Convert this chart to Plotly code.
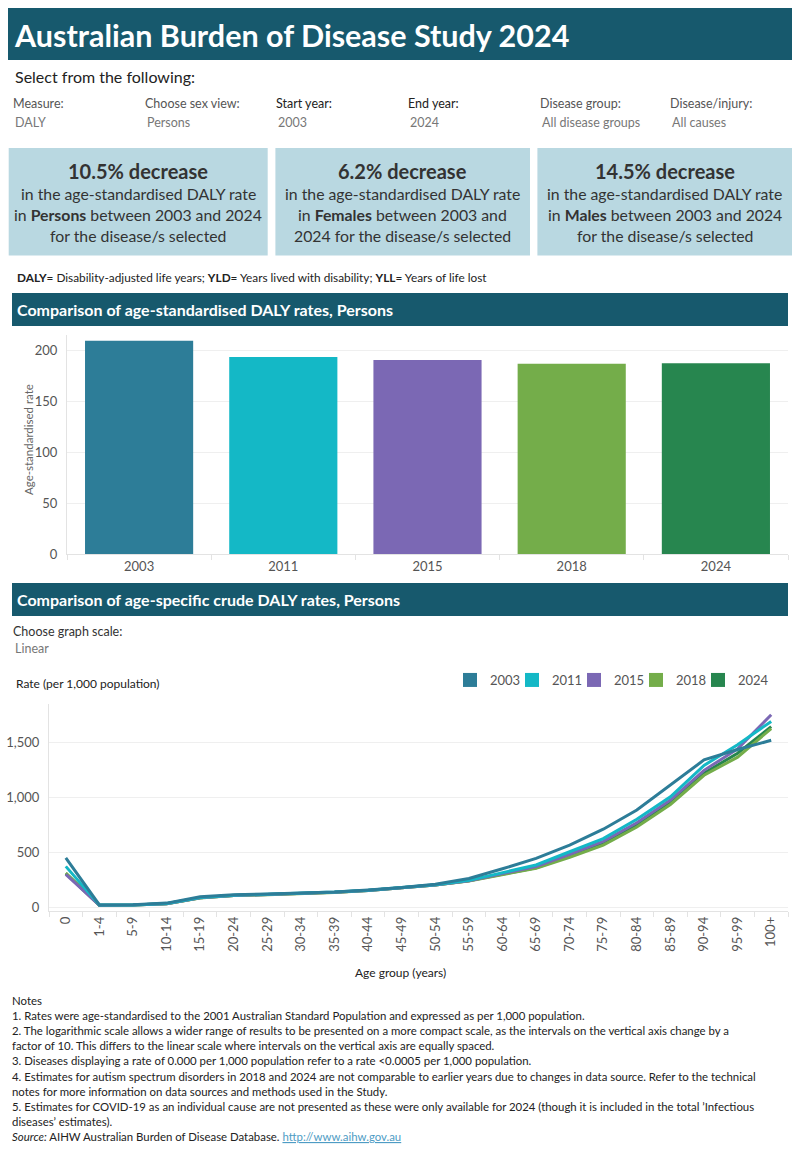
import plotly.graph_objects as go

W, H = 800, 1150
FONT = "Lato"

# ---------------- data ----------------
years = ["2003", "2011", "2015", "2018", "2024"]
asr_rates = [209.0, 193.2, 190.3, 186.4, 187.1]
year_colors = ["#2D7D98", "#14B8C6", "#7B68B4", "#74AD4A", "#27864F"]

age_groups = ["0", "1-4", "5-9", "10-14", "15-19", "20-24", "25-29", "30-34", "35-39",
              "40-44", "45-49", "50-54", "55-59", "60-64", "65-69", "70-74", "75-79",
              "80-84", "85-89", "90-94", "95-99", "100+"]
rate_2003 = [450, 22, 24, 38, 95, 115, 121, 128, 140, 158, 180, 210, 262, 350, 445, 565, 710, 885, 1110, 1340, 1435, 1518]
rate_2011 = [372, 20, 21, 34, 88, 110, 118, 125, 138, 155, 178, 205, 245, 312, 385, 505, 625, 800, 1005, 1290, 1478, 1690]
rate_2015 = [300, 19, 20, 33, 86, 108, 116, 124, 136, 153, 176, 203, 242, 305, 370, 482, 600, 768, 975, 1245, 1440, 1750]
rate_2018 = [312, 19, 20, 33, 85, 107, 115, 123, 135, 152, 175, 202, 240, 300, 355, 455, 565, 730, 935, 1200, 1365, 1625]
rate_2024 = [308, 19, 20, 33, 86, 108, 116, 124, 136, 153, 176, 203, 242, 302, 360, 465, 580, 748, 955, 1220, 1400, 1642]
rates_by_year = [rate_2003, rate_2011, rate_2015, rate_2018, rate_2024]

kpi_titles = ["10.5% decrease", "6.2% decrease", "14.5% decrease"]
kpi_lines = [
    ["in the age-standardised DALY rate", "in <b>Persons</b> between 2003 and 2024", "for the disease/s selected"],
    ["in the age-standardised DALY rate", "in <b>Females</b> between 2003 and", "2024 for the disease/s selected"],
    ["in the age-standardised DALY rate", "in <b>Males</b> between 2003 and 2024", "for the disease/s selected"],
]
control_labels = ["Measure:", "Choose sex view:", "Start year:", "End year:", "Disease group:", "Disease/injury:"]
control_values = ["DALY", "Persons", "2003", "2024", "All disease groups", "All causes"]
notes_lines = [
    "Notes",
    "1. Rates were age-standardised to the 2001 Australian Standard Population and expressed as per 1,000 population.",
    "2. The logarithmic scale allows a wider range of results to be presented on a more compact scale, as the intervals on the vertical axis change by a",
    "factor of 10. This differs to the linear scale where intervals on the vertical axis are equally spaced.",
    "3. Diseases displaying a rate of 0.000 per 1,000 population refer to a rate &lt;0.0005 per 1,000 population.",
    "4. Estimates for autism spectrum disorders in 2018 and 2024 are not comparable to earlier years due to changes in data source. Refer to the technical",
    "notes for more information on data sources and methods used in the Study.",
    "5. Estimates for COVID-19 as an individual cause are not presented as these were only available for 2024 (though it is included in the total \u2019Infectious",
    "diseases\u2019 estimates).",
    "<i>Source:</i> AIHW Australian Burden of Disease Database. <span style='color:#4E9CC4'><u>http://www.aihw.gov.au</u></span>",
]

# ---------------- figure ----------------
fig = go.Figure()

# bar chart
fig.add_trace(go.Bar(x=years, y=asr_rates, marker=dict(color=year_colors, line=dict(width=0)),
                     showlegend=False, xaxis="x", yaxis="y", hoverinfo="x+y"))

# line chart (2003 drawn last so it sits on top)
order = [4, 3, 2, 1, 0]
for i in order:
    fig.add_trace(go.Scatter(x=age_groups, y=rates_by_year[i], mode="lines",
                             line=dict(color=year_colors[i], width=3), name=years[i],
                             showlegend=False, xaxis="x2", yaxis="y2"))
# legend entries (square swatches)
for i, yr in enumerate(years):
    fig.add_trace(go.Scatter(x=[None], y=[None], mode="markers", name=yr,
                             marker=dict(symbol="square", size=14, color=year_colors[i]),
                             xaxis="x2", yaxis="y2", showlegend=True))
# invisible trailing entry so the last legend label is not clipped
fig.add_trace(go.Scatter(x=[None], y=[None], mode="markers", name=" ",
                         marker=dict(symbol="square", size=1, opacity=0, color="white"),
                         xaxis="x2", yaxis="y2", showlegend=True, hoverinfo="skip"))

def px_x(x):
    return x / W

def px_y(y):
    return 1 - y / H

def txt(x, y, s, size=12, color="#333333", anchor="left", angle=0, family=FONT):
    fig.add_annotation(x=px_x(x), y=px_y(y), xref="paper", yref="paper", text=s,
                       showarrow=False, xanchor=anchor, yanchor="middle",
                       font=dict(size=size, color=color, family=family), textangle=angle,
                       borderpad=0)

def rect(x0, y0, x1, y1, color):
    fig.add_shape(type="rect", xref="paper", yref="paper", x0=px_x(x0), x1=px_x(x1),
                  y0=px_y(y1), y1=px_y(y0), fillcolor=color, line=dict(width=0), layer="below")

DARK = "#17596D"
BOX = "#B9D8E1"

# header
rect(8, 8, 792, 60, DARK)
txt(13, 35, "<b>Australian Burden of Disease Study 2024</b>", size=30.5, color="white")
txt(14, 76, "Select from the following:", size=16, color="#222222")

ctrl_x = [12, 144, 275, 407, 539, 669]
for i, (lab, val) in enumerate(zip(control_labels, control_values)):
    col = "#222222" if lab in ("Start year:", "End year:") else "#555555"
    txt(ctrl_x[i], 104, lab, size=12.5, color=col)
    txt(ctrl_x[i] + 2, 122, val, size=12.5, color="#777777")

# KPI boxes
boxes = [(8.7, 267.7), (275.4, 530), (537.4, 792)]
for (x0, x1), title, lines in zip(boxes, kpi_titles, kpi_lines):
    rect(x0, 148, x1, 255.5, BOX)
    cx = (x0 + x1) / 2
    txt(cx, 171, "<b>" + title + "</b>", size=20, color="#333333", anchor="center")
    for j, ln in enumerate(lines):
        txt(cx, 194 + j * 20.6, ln, size=15.8, color="#333333", anchor="center")

txt(16, 277, "<b>DALY</b>= Disability-adjusted life years; <b>YLD</b>= Years lived with disability; <b>YLL</b>= Years of life lost",
    size=11.8, color="#222222")

# section headers
rect(12, 293, 788, 326, DARK)
txt(16, 309.5, "<b>Comparison of age-standardised DALY rates, Persons</b>", size=16, color="white")
rect(12, 583, 788, 616, DARK)
txt(16, 599.5, "<b>Comparison of age-specific crude DALY rates, Persons</b>", size=16, color="white")

txt(12, 631, "Choose graph scale:", size=12.5, color="#333333")
txt(14, 648, "Linear", size=12.5, color="#777777")

txt(15, 683, "Rate (per 1,000 population)", size=12, color="#222222")
txt(400, 972, "Age group (years)", size=12, color="#222222", anchor="center")
txt(28, 440, "Age-standardised rate", size=11.5, color="#666666", anchor="center", angle=-90)

for k, ln in enumerate(notes_lines):
    txt(11, 1000 + k * 15.2, ln, size=11.4, color="#222222")

# axes geometry
bar_bottom, bar_top = 554.0, 554.0 - 215 * 1.02
line_bottom = 907.3 + 30 * 0.11
line_top = 907.3 - 1850 * 0.11

grid = "#EFEFEF"
axis_line = "#E3E3E3"
tick_font = dict(family=FONT, size=13, color="#555555")

fig.update_layout(
    width=W, height=H, autosize=False,
    margin=dict(l=0, r=0, t=0, b=0, pad=0, autoexpand=False),
    paper_bgcolor="white", plot_bgcolor="white",
    font=dict(family=FONT),
    bargap=0.25,
    xaxis=dict(domain=[67 / W, 788 / W], anchor="y", type="category", automargin=False,
               showgrid=False, showline=True, linecolor=axis_line, linewidth=1,
               ticks="outside", tickson="boundaries", ticklen=5, tickcolor=axis_line,
               tickfont=tick_font, fixedrange=True, zeroline=False),
    yaxis=dict(domain=[px_y(bar_bottom), px_y(bar_top)], anchor="x", range=[0, 215], automargin=False,
               tickvals=[0, 50, 100, 150, 200], showgrid=True, gridcolor=grid,
               showline=True, linecolor=axis_line, zeroline=False,
               tickfont=tick_font, ticks="", ticklabelstandoff=6),
    xaxis2=dict(domain=[49 / W, 788 / W], anchor="y2", type="category", automargin=False,
                range=[-0.5, len(age_groups) - 0.5],
                showgrid=False, showline=True, linecolor=axis_line,
                ticks="outside", tickson="boundaries", ticklen=5, tickcolor=axis_line,
                tickangle=-90, tickfont=tick_font, zeroline=False),
    yaxis2=dict(domain=[px_y(line_bottom), px_y(line_top)], anchor="x2", range=[-30, 1850], automargin=False,
                tickvals=[0, 500, 1000, 1500], tickformat=",", showgrid=True, gridcolor=grid,
                showline=True, linecolor=axis_line, zeroline=False,
                tickfont=tick_font, ticks="", ticklabelstandoff=6),
    legend=dict(orientation="h", x=450 / W, y=px_y(680), xanchor="left", yanchor="middle",
                font=dict(family=FONT, size=13, color="#555555"), bgcolor="rgba(0,0,0,0)",
                itemwidth=30, entrywidth=17, traceorder="normal"),
)

fig.write_html("out.html")
